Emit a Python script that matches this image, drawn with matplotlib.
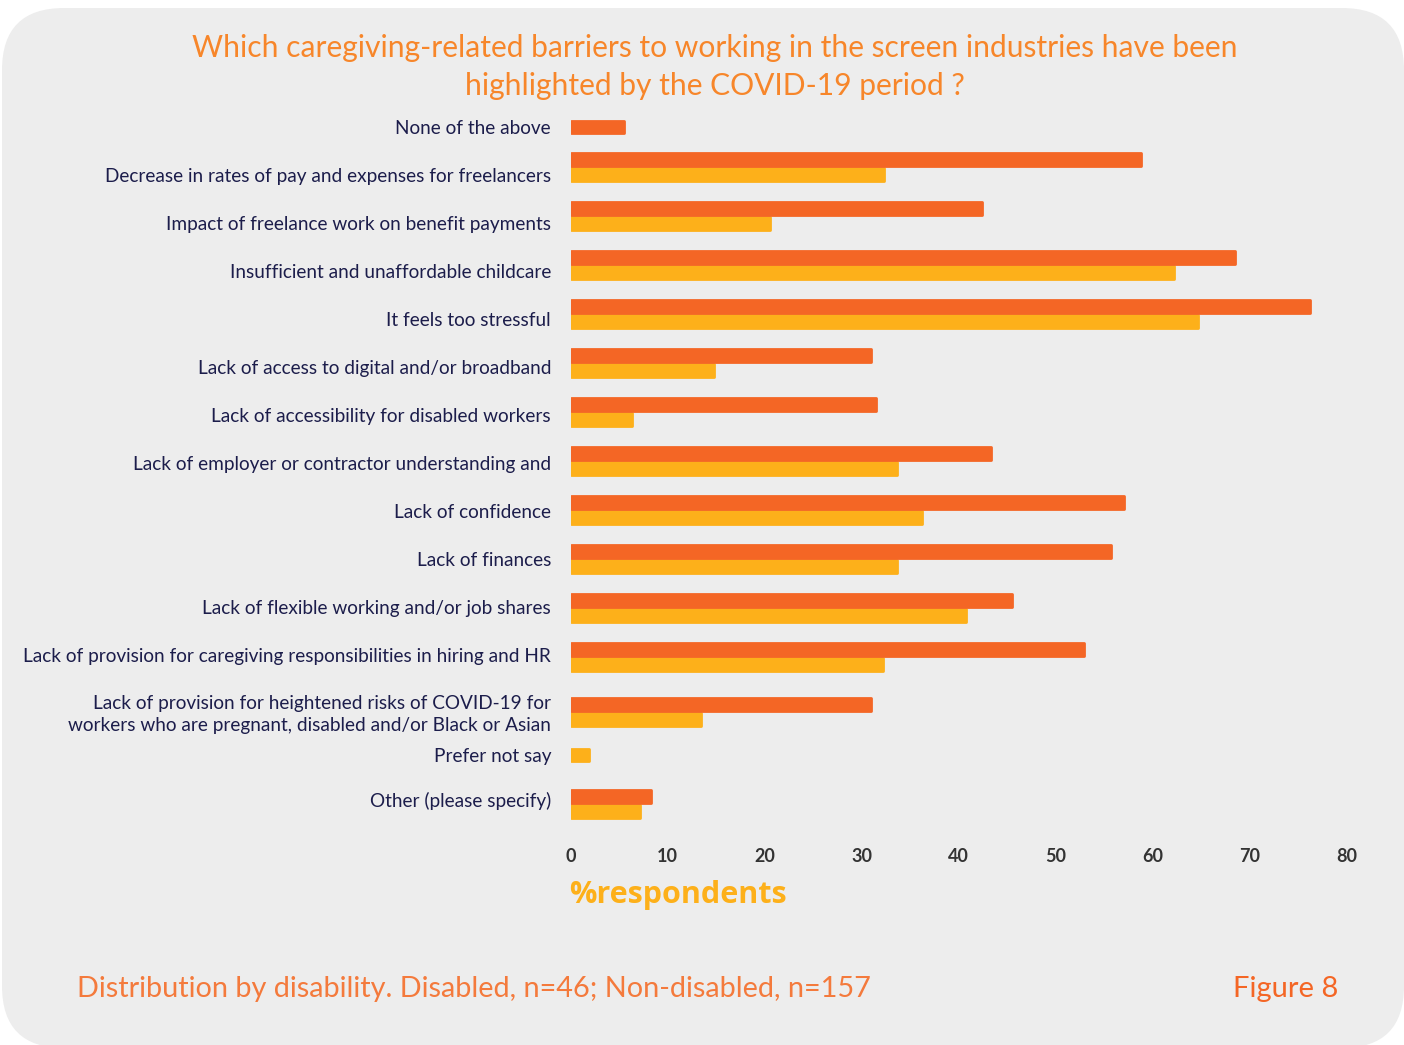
import numpy as np
import matplotlib
matplotlib.use('Agg')
import matplotlib.pyplot as plt
from matplotlib.patches import FancyBboxPatch

categories = [
    'None of the above',
    'Decrease in rates of pay and expenses for freelancers',
    'Impact of freelance work on benefit payments',
    'Insufficient and unaffordable childcare',
    'It feels too stressful',
    'Lack of access to digital and/or broadband',
    'Lack of accessibility for disabled workers',
    'Lack of employer or contractor understanding and',
    'Lack of confidence',
    'Lack of finances',
    'Lack of flexible working and/or job shares',
    'Lack of provision for caregiving responsibilities in hiring and HR',
    'Lack of provision for heightened risks of COVID-19 for\nworkers who are pregnant, disabled and/or Black or Asian',
    'Prefer not say',
    'Other (please specify)',
]
disabled = [5.5, 58.8, 42.4, 68.5, 76.2, 31.0, 31.5, 43.4, 57.1, 55.7, 45.5, 52.9, 31.0, 0, 8.3]
non_disabled = [0, 32.3, 20.6, 62.2, 64.7, 14.8, 6.3, 33.7, 36.2, 33.7, 40.8, 32.2, 13.5, 1.9, 7.2]
x_ticks = [0, 10, 20, 30, 40, 50, 60, 70, 80]

title = ('Which caregiving-related barriers to working in the screen industries have been\n'
         'highlighted by the COVID-19 period ?')
footer = 'Distribution by disability. Disabled, n=46; Non-disabled, n=157'

ORANGE = '#F46625'
YELLOW = '#FDB01A'
NAVY = '#1C1D4B'
BG = '#EDEDED'
W, H = 1404, 1045

plt.rcParams['font.family'] = ['Lato', 'DejaVu Sans']

fig = plt.figure(figsize=(W / 100, H / 100), dpi=100)
fig.patch.set_facecolor('white')

# rounded grey card behind everything
bg_ax = fig.add_axes([0, 0, 1, 1], zorder=0)
bg_ax.set_xlim(0, W)
bg_ax.set_ylim(H, 0)
bg_ax.axis('off')
bg_ax.add_patch(FancyBboxPatch((2, 8), W - 2, H - 5, boxstyle='round,pad=0,rounding_size=62',
                               facecolor=BG, edgecolor='none'))


def px(x, y):
    return x / W, 1 - y / H


# bar rows are 49px apart starting at y=118, labels 48px apart starting at y=127
row_px, row0 = 49.0, 118.0
left, top = px(570.5, 103)
right, bottom = px(570.5 + 80 * 9.7, 823)
ax = fig.add_axes([left, bottom, right - left, top - bottom], zorder=1)
ax.set_facecolor('none')

n = len(categories)
rows = np.arange(n)
label_pos = (127 + 48 * rows - row0) / row_px
label_pos[12] += 8 / row_px
label_pos[13] += 4 / row_px
bar_pos = rows.astype(float)
bar_pos[12] += 6 / row_px

h = 0.25
off = 7.5 / row_px
for i in range(n):
    d, nd = disabled[i], non_disabled[i]
    if d > 0 and nd > 0:
        yd, ynd = bar_pos[i] - off, bar_pos[i] + off
    else:
        yd, ynd = label_pos[i], label_pos[i]
    if nd > 0:
        ax.barh(ynd, nd, height=h, color=YELLOW, edgecolor=YELLOW, linewidth=2,
                joinstyle='round', zorder=2)
    if d > 0:
        ax.barh(yd, d, height=h, color=ORANGE, edgecolor=ORANGE, linewidth=2,
                joinstyle='round', zorder=3)

ax.set_xlim(0, 80)
ax.set_ylim((823 - row0) / row_px, (103 - row0) / row_px)
ax.set_yticks(label_pos)
ax.set_yticklabels(categories, fontsize=13.7, color=NAVY, linespacing=1.3)
ax.set_xticks(x_ticks)
ax.set_xticklabels([str(t) for t in x_ticks], fontsize=13, color='#333333', fontweight='bold')
ax.tick_params(axis='y', length=0, pad=14)
ax.tick_params(axis='x', length=0, pad=18)
for s in ax.spines.values():
    s.set_visible(False)

fig.text(*px(715, 67), title, ha='center', va='center', fontsize=21.6, color='#F7862A',
         linespacing=1.45)
fig.text(*px(569, 895), '%respondents', ha='left', va='center', fontsize=22,
         color='#FDB01A', fontweight='bold', family=['Open Sans', 'DejaVu Sans'])
fig.text(*px(77, 989), footer, ha='left', va='center', fontsize=20.8, color='#F47A3C',
         fontweight='normal')
fig.text(*px(1338, 989), 'Figure 8', ha='right', va='center', fontsize=21, color='#F46625')

fig.savefig('out.png', dpi=100, facecolor=fig.get_facecolor())
